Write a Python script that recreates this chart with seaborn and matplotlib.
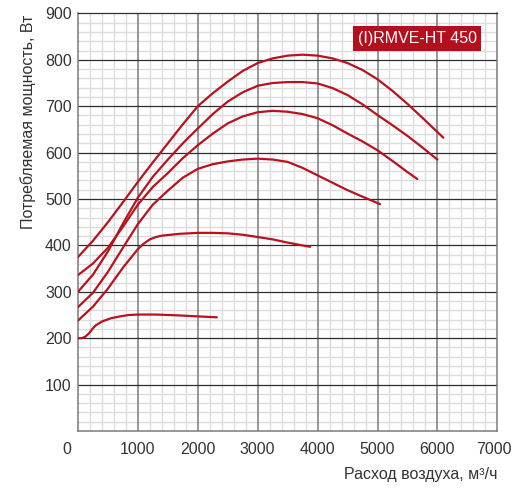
import matplotlib
matplotlib.use("Agg")
import matplotlib.pyplot as plt
from matplotlib.patches import Rectangle
from matplotlib.ticker import FixedLocator
import matplotlib.transforms as mtransforms
import numpy as np
import pandas as pd
import seaborn as sns

# Fan power curves, airflow (m3/h) vs power (W)
flow_a = [0, 250, 500, 750, 1000, 1250, 1500, 1750, 2000, 2250, 2500, 2750, 3000, 3250, 3500,
          3750, 4000, 4250, 4500, 4750, 5000, 5250, 5500, 5750, 6100]
power_a = [375, 410, 450, 493, 537, 579, 620, 661, 700, 728, 753, 776, 793, 803, 809,
           811, 809, 803, 793, 778, 758, 733, 705, 675, 632]

flow_b = [0, 250, 500, 750, 1000, 1250, 1500, 1750, 2000, 2250, 2500, 2750, 3000, 3250, 3500,
          3750, 4000, 4250, 4500, 4750, 5000, 5250, 5500, 5750, 6000]
power_b = [300, 337, 387, 447, 503, 548, 585, 620, 652, 683, 710, 730, 744, 750, 752,
           752, 749, 739, 724, 704, 681, 659, 636, 611, 585]

flow_c = [0, 250, 500, 750, 1000, 1250, 1500, 1750, 2000, 2250, 2500, 2750, 3000, 3250, 3500,
          3750, 4000, 4250, 4500, 4750, 5000, 5250, 5500, 5665]
power_c = [336, 361, 395, 440, 488, 526, 556, 588, 616, 641, 663, 678, 687, 690, 688,
           683, 674, 659, 641, 624, 605, 582, 558, 543]

flow_d = [0, 250, 500, 750, 1000, 1250, 1500, 1750, 2000, 2250, 2500, 2750, 3000, 3250, 3500,
          3750, 4000, 4250, 4500, 4750, 5043]
power_d = [267, 298, 343, 395, 446, 488, 518, 546, 565, 575, 581, 585, 587, 585, 580,
           567, 551, 535, 519, 505, 489]

flow_e = [0, 250, 500, 750, 1000, 1100, 1200, 1300, 1400, 1550, 1700, 2000, 2250, 2500, 2750,
          3000, 3250, 3500, 3750, 3875]
power_e = [238, 268, 307, 352, 392, 404, 413, 418, 421, 423, 425, 427, 427, 426, 423,
           418, 413, 406, 400, 397]

flow_f = [0, 60, 120, 180, 240, 300, 400, 550, 700, 850, 1000, 1300, 1700, 2000, 2318]
power_f = [200, 200, 203, 210, 220, 228, 236, 243, 247, 250, 251, 251, 249, 247, 245]

x_ticks = [0, 1000, 2000, 3000, 4000, 5000, 6000, 7000]
y_ticks = [100, 200, 300, 400, 500, 600, 700, 800, 900]
model_label = "(I)RMVE-HT 450"
x_label = "Расход воздуха, м³/ч"
y_label = "Потребляемая мощность, Вт"

curves = [(flow_a, power_a), (flow_b, power_b), (flow_c, power_c),
          (flow_d, power_d), (flow_e, power_e), (flow_f, power_f)]
frames = []
for i, (fx, py) in enumerate(curves):
    frames.append(pd.DataFrame({"flow": fx, "power": py, "curve": i}))
df = pd.concat(frames, ignore_index=True)

sns.set_style("white")
plt.rcParams["font.family"] = ["Liberation Sans", "DejaVu Sans"]

W, H = 512, 491
fig = plt.figure(figsize=(W / 100, H / 100), dpi=100)
left, right, top, bottom = 78, 497.3, 13.4, 431
ax = fig.add_axes([left / W, 1 - bottom / H, (right - left) / W, (bottom - top) / H])

red = "#b8121f"
sns.lineplot(data=df, x="flow", y="power", hue="curve", units="curve",
             estimator=None, sort=False, palette=[red] * 6, legend=False,
             linewidth=1.6, ax=ax, zorder=5)
for ln in ax.get_lines():
    ln.set_solid_joinstyle("round")
    ln.set_solid_capstyle("round")

ax.set_xlim(0, 7000)
ax.set_ylim(0, 900)
ax.set_xticks(x_ticks)
ax.set_yticks(y_ticks)
ax.xaxis.set_minor_locator(FixedLocator([v for v in range(200, 7000, 200) if v % 1000]))
ax.yaxis.set_minor_locator(FixedLocator([v for v in range(20, 900, 20) if v % 100]))

# light fine grid underneath, heavier major lines drawn on top of it
ax.grid(which="minor", color="#dcdcdc", linewidth=1.0, linestyle="-")
ax.grid(which="major", visible=False)
ax.set_axisbelow(True)
for xv in x_ticks[1:-1]:
    ax.axvline(xv, color="#7a7a7a", linewidth=1.1, zorder=1)
for yv in y_ticks[:-1]:
    ax.axhline(yv, color="#2e2e2e", linewidth=0.9, zorder=1.2)

for side in ["left", "bottom", "right"]:
    ax.spines[side].set_color("#7a7a7a")
    ax.spines[side].set_linewidth(1.1)
ax.spines["top"].set_color("#2e2e2e")
ax.spines["top"].set_linewidth(0.9)

ax.tick_params(axis="both", which="both", length=0, labelcolor="#333333",
               labelsize=11.5)
ax.tick_params(axis="x", pad=8)
ax.tick_params(axis="y", pad=4.5)
ax.set_xticklabels([str(t) for t in x_ticks])
ax.set_yticklabels([str(t) for t in y_ticks])
# nudge the origin label left of the axis corner, and the last one inside the canvas
xlbls = ax.get_xticklabels()
xlbls[0].set_transform(xlbls[0].get_transform() +
                       mtransforms.ScaledTranslation(-11 / 100, 0, fig.dpi_scale_trans))
xlbls[-1].set_transform(xlbls[-1].get_transform() +
                        mtransforms.ScaledTranslation(-3 / 100, 0, fig.dpi_scale_trans))

ax.set_xlabel("")
ax.set_ylabel("")
fig.text(497 / W, 1 - 474 / H, x_label, ha="right", va="center",
         fontsize=11.5, color="#333333")
fig.text(28 / W, 1 - 14.5 / H, y_label, rotation=90, ha="center", va="top",
         fontsize=11.5, color="#333333")

# model badge
bx0, bx1, by0, by1 = 353, 481, 26, 51
ax.add_patch(Rectangle(((bx0 - left) / (right - left), (bottom - by1) / (bottom - top)),
                       (bx1 - bx0) / (right - left), (by1 - by0) / (bottom - top),
                       transform=ax.transAxes, facecolor="#b50f1e", edgecolor="none",
                       zorder=6))
ax.text(((bx0 + bx1) / 2 - left) / (right - left),
        (bottom - (by0 + by1) / 2) / (bottom - top), model_label,
        transform=ax.transAxes, ha="center", va="center", color="white",
        fontsize=11.5, zorder=7)

fig.savefig("out.png", dpi=100)
